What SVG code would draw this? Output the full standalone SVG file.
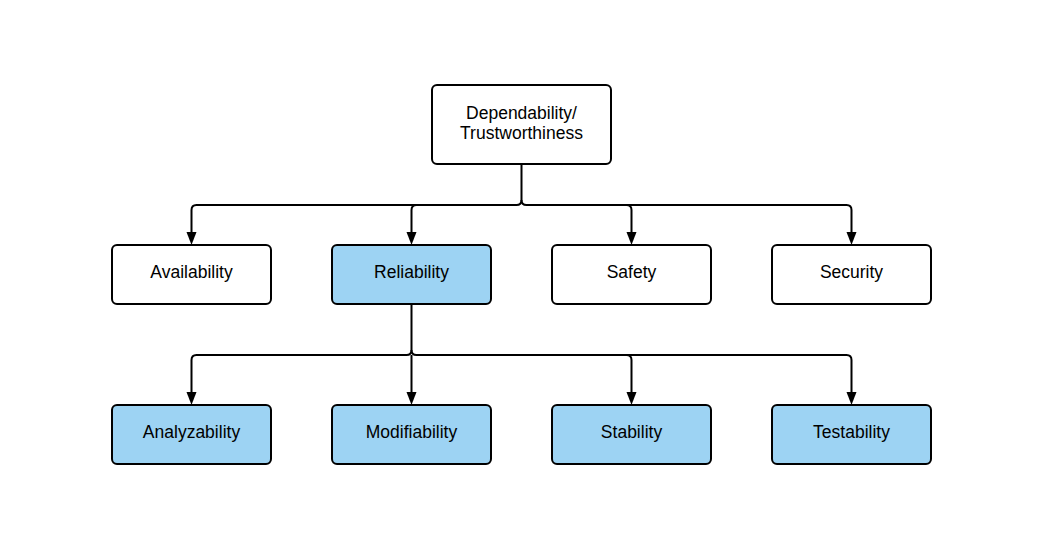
<svg xmlns="http://www.w3.org/2000/svg" width="1043" height="549" viewBox="0 0 1043 549">
<style>
.box{fill:#fff;stroke:#000;stroke-width:2}
.blue{fill:#9dd3f3}
.t{font-family:"Liberation Sans",Arial,sans-serif;font-size:17.5px;fill:#000;text-anchor:middle}
.c{fill:none;stroke:#000;stroke-width:2}
</style>
<defs>
<path id="arr" d="M-5,-13 L5,-13 L0,0 Z"/>
</defs>
<rect width="1043" height="549" fill="#fff"/>
<g id="connectors">
<path class="c" d="M521.5,165 V200 Q521.5,205 516.5,205 H196.5 Q191.5,205 191.5,210 V233"/>
<path class="c" d="M521.5,200 Q521.5,205 526.5,205 H846.5 Q851.5,205 851.5,210 V233"/>
<path class="c" d="M416.5,205 Q411.5,205 411.5,210 V233"/>
<path class="c" d="M626.5,205 Q631.5,205 631.5,210 V233"/>
<path class="c" d="M411.5,305 V350 Q411.5,355 406.5,355 H196.5 Q191.5,355 191.5,360 V393"/>
<path class="c" d="M411.5,350 Q411.5,355 416.5,355 H846.5 Q851.5,355 851.5,360 V393"/>
<path class="c" d="M411.5,355 V393"/>
<path class="c" d="M626.5,355 Q631.5,355 631.5,360 V393"/>
<use href="#arr" x="191.5" y="245"/>
<use href="#arr" x="411.5" y="245"/>
<use href="#arr" x="631.5" y="245"/>
<use href="#arr" x="851.5" y="245"/>
<use href="#arr" x="191.5" y="405"/>
<use href="#arr" x="411.5" y="405"/>
<use href="#arr" x="631.5" y="405"/>
<use href="#arr" x="851.5" y="405"/>
</g>
<g id="dependability"><rect class="box" x="432" y="85" width="179" height="79" rx="5"/><text class="t" x="521.5" y="118.5">Dependability/</text><text class="t" x="521.5" y="138.5">Trustworthiness</text></g>
<g id="availability"><rect class="box" x="112" y="245" width="159" height="59" rx="5"/><text class="t" x="191.5" y="278">Availability</text></g>
<g id="reliability"><rect class="box blue" x="332" y="245" width="159" height="59" rx="5"/><text class="t" x="411.5" y="278">Reliability</text></g>
<g id="safety"><rect class="box" x="552" y="245" width="159" height="59" rx="5"/><text class="t" x="631.5" y="278">Safety</text></g>
<g id="security"><rect class="box" x="772" y="245" width="159" height="59" rx="5"/><text class="t" x="851.5" y="278">Security</text></g>
<g id="analyzability"><rect class="box blue" x="112" y="405" width="159" height="59" rx="5"/><text class="t" x="191.5" y="438">Analyzability</text></g>
<g id="modifiability"><rect class="box blue" x="332" y="405" width="159" height="59" rx="5"/><text class="t" x="411.5" y="438">Modifiability</text></g>
<g id="stability"><rect class="box blue" x="552" y="405" width="159" height="59" rx="5"/><text class="t" x="631.5" y="438">Stability</text></g>
<g id="testability"><rect class="box blue" x="772" y="405" width="159" height="59" rx="5"/><text class="t" x="851.5" y="438">Testability</text></g>
</svg>
